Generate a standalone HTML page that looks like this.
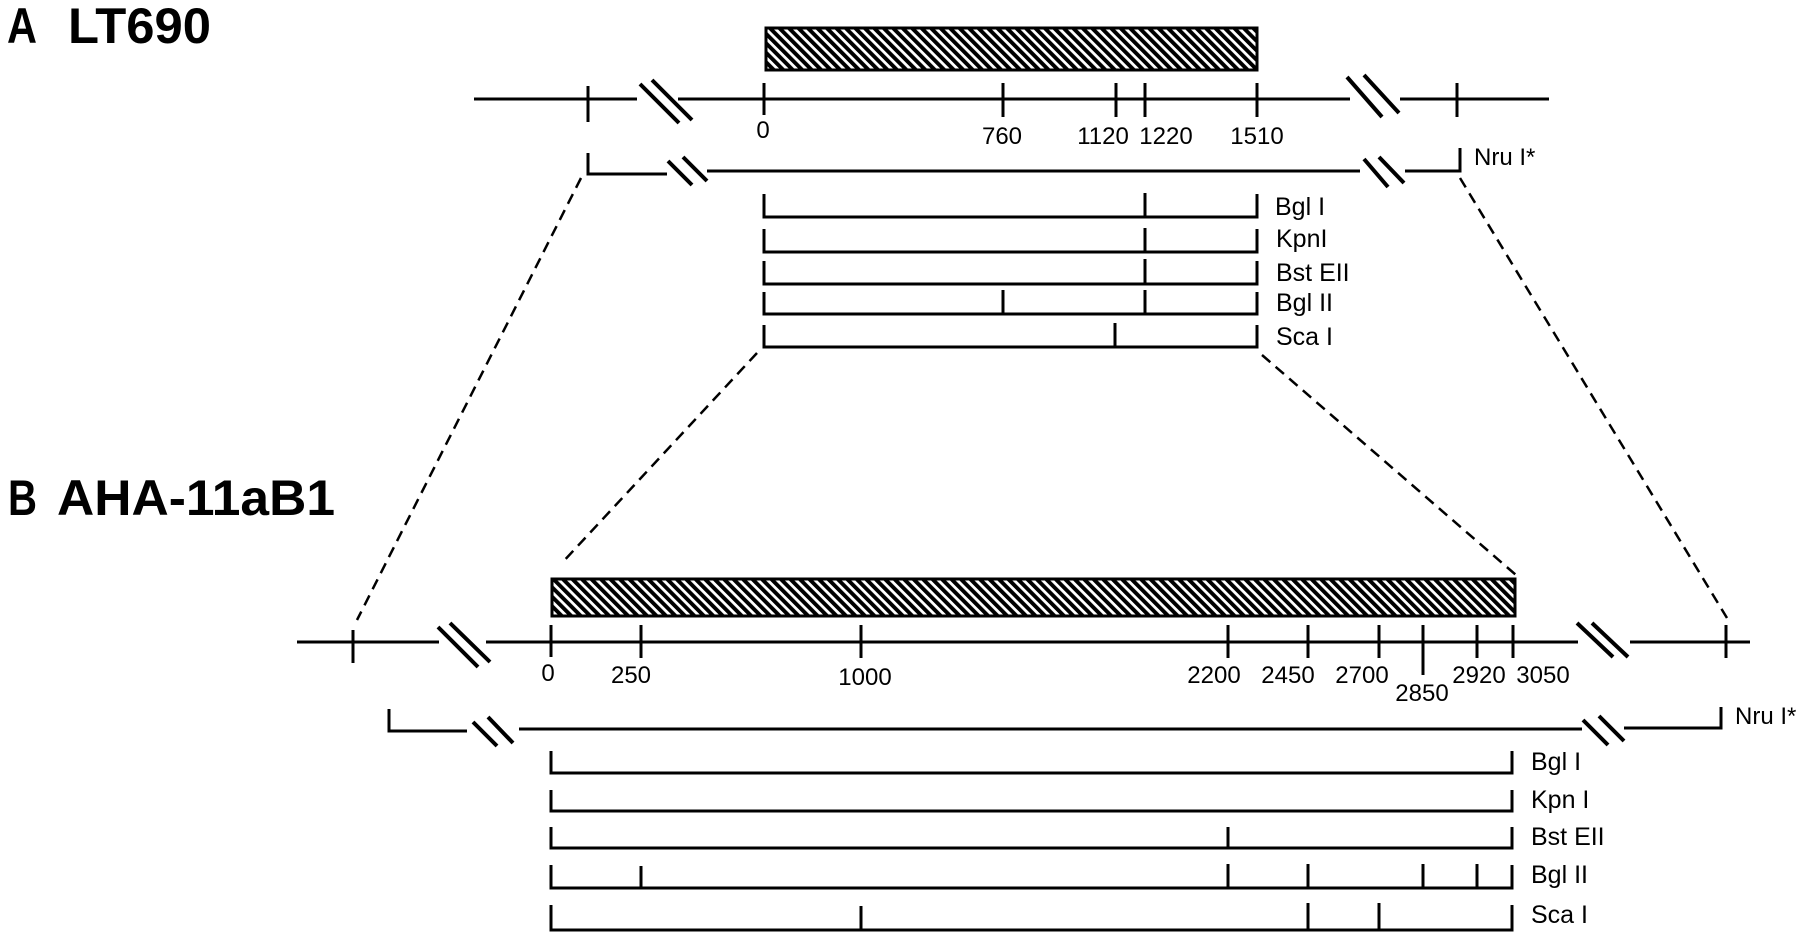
<!DOCTYPE html>
<html>
<head>
<meta charset="utf-8">
<style>
html,body{margin:0;padding:0;background:#fff;}
svg{display:block;}
text{font-family:"Liberation Sans",Arial,sans-serif;fill:#000;}
.t{font-weight:bold;font-size:50px;}
.n{font-size:24px;}
.e{font-size:25px;}
</style>
</head>
<body>
<svg width="1800" height="938" viewBox="0 0 1800 938" xmlns="http://www.w3.org/2000/svg">
<defs>
<pattern id="h" patternUnits="userSpaceOnUse" width="6.7" height="6.7" patternTransform="rotate(-45)">
<rect x="0" y="0" width="6.7" height="6.7" fill="#fff"/>
<rect x="0" y="0" width="3.9" height="6.7" fill="#000"/>
</pattern>
</defs>

<!-- Titles -->
<text class="t" x="7" y="43" textLength="30" lengthAdjust="spacingAndGlyphs">A</text>
<text class="t" x="68" y="43" textLength="143" lengthAdjust="spacingAndGlyphs">LT690</text>
<text class="t" x="8" y="515" textLength="29" lengthAdjust="spacingAndGlyphs">B</text>
<text class="t" x="57" y="515" textLength="278" lengthAdjust="spacingAndGlyphs">AHA-11aB1</text>

<g stroke="#000" stroke-width="3" fill="none" stroke-linecap="butt">
<!-- ===== A ===== -->
<rect x="766" y="28" width="491" height="42" fill="url(#h)" stroke-width="3"/>
<!-- main line -->
<line x1="474" y1="99" x2="637" y2="99"/>
<line x1="678" y1="99" x2="1350" y2="99"/>
<line x1="1400" y1="99" x2="1549" y2="99"/>
<line x1="640" y1="84" x2="679" y2="123" stroke-width="4"/>
<line x1="652" y1="80" x2="692" y2="120" stroke-width="4"/>
<line x1="1347" y1="77" x2="1382" y2="117" stroke-width="4"/>
<line x1="1364" y1="75" x2="1399" y2="113" stroke-width="4"/>
<!-- ticks -->
<line x1="588" y1="86" x2="588" y2="122"/>
<line x1="764" y1="83" x2="764" y2="115"/>
<line x1="1003" y1="83" x2="1003" y2="117"/>
<line x1="1116" y1="83" x2="1116" y2="117"/>
<line x1="1145" y1="83" x2="1145" y2="117"/>
<line x1="1257" y1="83" x2="1257" y2="117"/>
<line x1="1457" y1="83" x2="1457" y2="117"/>
<!-- Nru line A -->
<polyline points="588,153 588,174 667,174"/>
<line x1="668" y1="161" x2="692" y2="185" stroke-width="4"/>
<line x1="683" y1="157" x2="707" y2="181" stroke-width="4"/>
<line x1="707" y1="171" x2="1360" y2="171"/>
<line x1="1364" y1="159" x2="1388" y2="187" stroke-width="4"/>
<line x1="1379" y1="157" x2="1404" y2="183" stroke-width="4"/>
<polyline points="1405,171 1460,171 1460,148"/>
<!-- enzyme rows A -->
<polyline points="764,194 764,217 1257,217 1257,194"/>
<line x1="1145" y1="193" x2="1145" y2="217"/>
<polyline points="764,229 764,252 1257,252 1257,229"/>
<line x1="1145" y1="228" x2="1145" y2="252"/>
<polyline points="764,261 764,284 1257,284 1257,261"/>
<line x1="1145" y1="259" x2="1145" y2="284"/>
<polyline points="764,292 764,314 1257,314 1257,292"/>
<line x1="1003" y1="290" x2="1003" y2="314"/>
<line x1="1145" y1="290" x2="1145" y2="314"/>
<polyline points="764,325 764,347 1257,347 1257,325"/>
<line x1="1115" y1="323" x2="1115" y2="347"/>

<!-- dashed connectors -->
<g stroke-width="2.5" stroke-dasharray="11 7">
<line x1="581" y1="178" x2="357" y2="620"/>
<line x1="757" y1="353" x2="561" y2="564"/>
<line x1="1262" y1="355" x2="1516" y2="575"/>
<line x1="1460" y1="178" x2="1727" y2="618"/>
</g>

<!-- ===== B ===== -->
<rect x="552" y="579" width="963" height="37" fill="url(#h)" stroke-width="3"/>
<line x1="297" y1="642" x2="439" y2="642"/>
<line x1="486" y1="642" x2="1578" y2="642"/>
<line x1="1630" y1="642" x2="1750" y2="642"/>
<line x1="438" y1="627" x2="478" y2="667" stroke-width="4"/>
<line x1="450" y1="623" x2="490" y2="662" stroke-width="4"/>
<line x1="1577" y1="623" x2="1613" y2="657" stroke-width="4"/>
<line x1="1592" y1="623" x2="1628" y2="657" stroke-width="4"/>
<!-- ticks -->
<line x1="353" y1="630" x2="353" y2="663"/>
<line x1="551" y1="625" x2="551" y2="657"/>
<line x1="641" y1="625" x2="641" y2="658"/>
<line x1="861" y1="625" x2="861" y2="658"/>
<line x1="1228" y1="625" x2="1228" y2="658"/>
<line x1="1308" y1="625" x2="1308" y2="658"/>
<line x1="1379" y1="625" x2="1379" y2="658"/>
<line x1="1423" y1="625" x2="1423" y2="675"/>
<line x1="1477" y1="625" x2="1477" y2="658"/>
<line x1="1513" y1="625" x2="1513" y2="658"/>
<line x1="1726" y1="625" x2="1726" y2="658"/>
<!-- Nru line B -->
<polyline points="389,709 389,731 467,731"/>
<line x1="473" y1="722" x2="497" y2="746" stroke-width="4"/>
<line x1="488" y1="717" x2="513" y2="743" stroke-width="4"/>
<line x1="519" y1="729" x2="1582" y2="729"/>
<line x1="1583" y1="720" x2="1608" y2="745" stroke-width="4"/>
<line x1="1599" y1="716" x2="1624" y2="741" stroke-width="4"/>
<polyline points="1624,728 1721,728 1721,707"/>
<!-- enzyme rows B -->
<polyline points="551,751 551,773 1512,773 1512,751"/>
<polyline points="551,790 551,811 1512,811 1512,790"/>
<polyline points="551,827 551,848 1512,848 1512,827"/>
<line x1="1228" y1="827" x2="1228" y2="848"/>
<polyline points="551,865 551,888 1512,888 1512,865"/>
<line x1="641" y1="866" x2="641" y2="888"/>
<line x1="1228" y1="864" x2="1228" y2="888"/>
<line x1="1308" y1="864" x2="1308" y2="888"/>
<line x1="1423" y1="864" x2="1423" y2="888"/>
<line x1="1477" y1="864" x2="1477" y2="888"/>
<polyline points="551,905 551,930 1512,930 1512,905"/>
<line x1="861" y1="906" x2="861" y2="930"/>
<line x1="1308" y1="903" x2="1308" y2="930"/>
<line x1="1379" y1="903" x2="1379" y2="930"/>
</g>

<!-- A labels -->
<g text-anchor="middle">
<text class="n" x="763" y="138">0</text>
<text class="n" x="1002" y="144">760</text>
<text class="n" x="1103" y="144">1120</text>
<text class="n" x="1166" y="144">1220</text>
<text class="n" x="1257" y="144">1510</text>
</g>
<text class="n" x="1474" y="165">Nru I*</text>
<text class="e" x="1275" y="215">Bgl I</text>
<text class="e" x="1276" y="247">KpnI</text>
<text class="e" x="1276" y="281">Bst EII</text>
<text class="e" x="1276" y="311">Bgl II</text>
<text class="e" x="1276" y="345">Sca I</text>

<!-- B labels -->
<g text-anchor="middle">
<text class="n" x="548" y="681">0</text>
<text class="n" x="631" y="683">250</text>
<text class="n" x="865" y="685">1000</text>
<text class="n" x="1214" y="683">2200</text>
<text class="n" x="1288" y="683">2450</text>
<text class="n" x="1362" y="683">2700</text>
<text class="n" x="1422" y="701">2850</text>
<text class="n" x="1479" y="683">2920</text>
<text class="n" x="1543" y="683">3050</text>
</g>
<text class="n" x="1735" y="724">Nru I*</text>
<text class="e" x="1531" y="770">Bgl I</text>
<text class="e" x="1531" y="808">Kpn I</text>
<text class="e" x="1531" y="845">Bst EII</text>
<text class="e" x="1531" y="883">Bgl II</text>
<text class="e" x="1531" y="923">Sca I</text>
</svg>
</body>
</html>
